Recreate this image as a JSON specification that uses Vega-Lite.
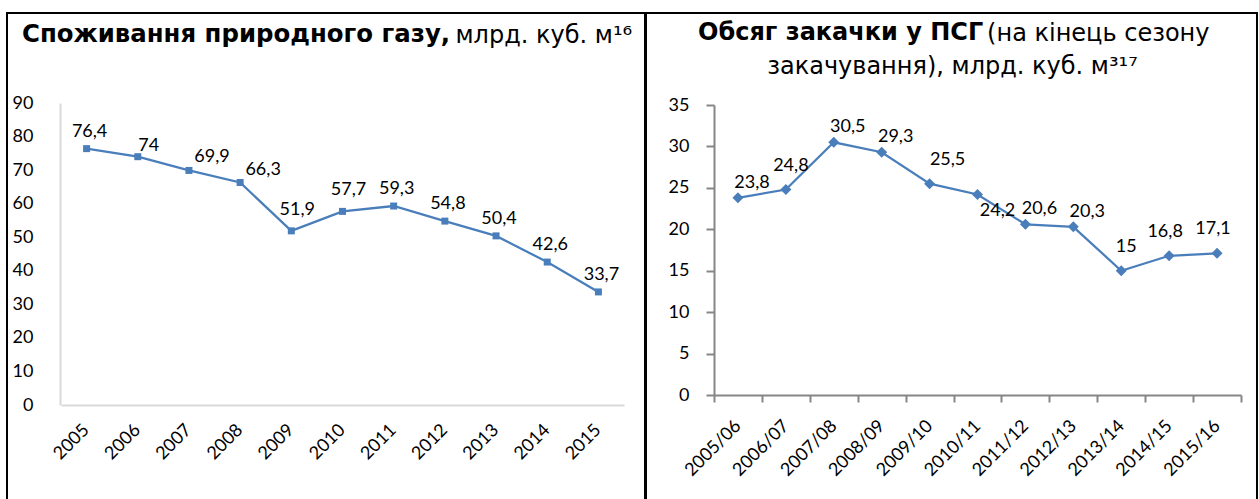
{
  "$schema": "https://vega.github.io/schema/vega-lite/v6.json",
  "padding": {"left": 6, "top": 12, "right": 0, "bottom": 0},
  "spacing": -9,
  "background": "#ffffff",
  "config": {
    "locale": {"number": {"decimal": ",", "thousands": " ", "grouping": [3], "currency": ["", ""]}},
    "view": {"stroke": "#000000", "strokeWidth": 2},
    "font": "Lato",
    "axis": {"grid": false, "labelFont": "Lato", "labelFontSize": 18, "labelColor": "#000000", "titleFont": "DejaVu Sans", "titleFontSize": 24, "titleFontWeight": "normal", "titleColor": "#000000"},
    "text": {"font": "Lato", "fontSize": 18, "color": "#000000"},
    "title": {"font": "DejaVu Sans", "fontSize": 24, "color": "#000000", "frame": "group", "align": "left"}
  },
  "datasets": {
    "gas": [
      {"year": "2005", "value": 76.4},
      {"year": "2006", "value": 74},
      {"year": "2007", "value": 69.9},
      {"year": "2008", "value": 66.3},
      {"year": "2009", "value": 51.9},
      {"year": "2010", "value": 57.7},
      {"year": "2011", "value": 59.3},
      {"year": "2012", "value": 54.8},
      {"year": "2013", "value": 50.4},
      {"year": "2014", "value": 42.6},
      {"year": "2015", "value": 33.7}
    ],
    "storage": [
      {"season": "2005/06", "value": 23.8},
      {"season": "2006/07", "value": 24.8},
      {"season": "2007/08", "value": 30.5},
      {"season": "2008/09", "value": 29.3},
      {"season": "2009/10", "value": 25.5},
      {"season": "2010/11", "value": 24.2},
      {"season": "2011/12", "value": 20.6},
      {"season": "2012/13", "value": 20.3},
      {"season": "2013/14", "value": 15},
      {"season": "2014/15", "value": 16.8},
      {"season": "2015/16", "value": 17.1}
    ]
  },
  "hconcat": [
    {
      "width": 638,
      "height": 488,
      "data": {"name": "gas"},
      "title": {"text": "Споживання природного газу,", "anchor": "start", "dx": 15, "offset": -34, "fontWeight": "bold", "fontSize": 24.4},
      "encoding": {
        "x": {
          "field": "year", "type": "ordinal", "sort": null,
          "scale": {"type": "band", "range": [54, 617], "paddingInner": 0, "paddingOuter": 0},
          "axis": {"title": null, "domainColor": "#d9d9d9", "domainWidth": 2, "ticks": false, "labelAngle": -45, "labelAlign": "right", "labelBaseline": "middle", "labelPadding": 22, "offset": -96}
        },
        "y": {
          "field": "value", "type": "quantitative",
          "scale": {"domain": [0, 90], "range": [392, 90], "nice": false},
          "axis": {"title": "млрд. куб. м¹⁶", "titleAngle": 0, "titleAlign": "left", "titleBaseline": "alphabetic", "titleX": 395, "titleY": 29, "domainColor": "#d9d9d9", "domainWidth": 2, "ticks": false, "values": [0, 10, 20, 30, 40, 50, 60, 70, 80, 90], "labelPadding": 27, "offset": -53}
        }
      },
      "layer": [
        {"mark": {"type": "line", "color": "#4a7ebb", "strokeWidth": 2.25}},
        {"mark": {"type": "point", "shape": "square", "filled": true, "size": 49, "color": "#4a7ebb", "opacity": 1}},
        {
          "transform": [{"filter": {"field": "year", "oneOf": ["2006"]}}],
          "mark": {"type": "text", "dx": 11, "dy": -11, "align": "center", "baseline": "middle"},
          "encoding": {"text": {"field": "value", "type": "quantitative", "format": ".1~f"}}
        },
        {
          "transform": [{"filter": {"field": "year", "oneOf": ["2007", "2008"]}}],
          "mark": {"type": "text", "dx": 23, "dy": -13, "align": "center", "baseline": "middle"},
          "encoding": {"text": {"field": "value", "type": "quantitative", "format": ".1~f"}}
        },
        {
          "transform": [{"filter": {"field": "year", "oneOf": ["2009", "2010"]}}],
          "mark": {"type": "text", "dx": 6, "dy": -21, "align": "center", "baseline": "middle"},
          "encoding": {"text": {"field": "value", "type": "quantitative", "format": ".1~f"}}
        },
        {
          "transform": [{"filter": {"field": "year", "oneOf": ["2005", "2011", "2012", "2013", "2014", "2015"]}}],
          "mark": {"type": "text", "dx": 3, "dy": -17, "align": "center", "baseline": "middle"},
          "encoding": {"text": {"field": "value", "type": "quantitative", "format": ".1~f"}}
        }
      ]
    },
    {
      "width": 611,
      "height": 488,
      "data": {"name": "storage"},
      "title": {"text": "Обсяг закачки у ПСГ", "anchor": "start", "dx": 52, "offset": -32, "fontWeight": "bold"},
      "encoding": {
        "x": {
          "field": "season", "type": "ordinal", "sort": null,
          "scale": {"type": "band", "range": [68, 595], "paddingInner": 0, "paddingOuter": 0},
          "axis": {"title": "(на кінець сезону", "titleAngle": 0, "titleAlign": "right", "titleBaseline": "alphabetic", "titleX": 563, "titleY": -355, "domainColor": "#868686", "domainWidth": 2, "ticks": true, "tickBand": "extent", "tickColor": "#868686", "tickWidth": 2, "tickSize": 7, "labelAngle": -45, "labelAlign": "right", "labelBaseline": "middle", "labelPadding": 21, "offset": -106}
        },
        "y": {
          "field": "value", "type": "quantitative",
          "scale": {"domain": [0, 35], "range": [382, 92], "nice": false},
          "axis": {"title": "закачування), млрд. куб. м³¹⁷", "titleAngle": 0, "titleAlign": "center", "titleBaseline": "alphabetic", "titleX": 238, "titleY": 60, "domainColor": "#868686", "domainWidth": 2, "ticks": true, "tickColor": "#868686", "tickWidth": 2, "tickSize": 8, "values": [0, 5, 10, 15, 20, 25, 30, 35], "labelPadding": 17, "offset": -68}
        }
      },
      "layer": [
        {"mark": {"type": "line", "color": "#4a7ebb", "strokeWidth": 2.25}},
        {"mark": {"type": "point", "shape": "diamond", "filled": true, "size": 121, "color": "#4a7ebb", "opacity": 1}},
        {
          "transform": [{"filter": {"field": "season", "oneOf": ["2005/06", "2007/08", "2008/09", "2011/12", "2012/13"]}}],
          "mark": {"type": "text", "dx": 14, "dy": -15, "align": "center", "baseline": "middle"},
          "encoding": {"text": {"field": "value", "type": "quantitative", "format": ".1~f"}}
        },
        {
          "transform": [{"filter": {"field": "season", "oneOf": ["2006/07", "2013/14"]}}],
          "mark": {"type": "text", "dx": 5, "dy": -24, "align": "center", "baseline": "middle"},
          "encoding": {"text": {"field": "value", "type": "quantitative", "format": ".1~f"}}
        },
        {
          "transform": [{"filter": {"field": "season", "oneOf": ["2009/10"]}}],
          "mark": {"type": "text", "dx": 18, "dy": -24, "align": "center", "baseline": "middle"},
          "encoding": {"text": {"field": "value", "type": "quantitative", "format": ".1~f"}}
        },
        {
          "transform": [{"filter": {"field": "season", "oneOf": ["2010/11"]}}],
          "mark": {"type": "text", "dx": 20, "dy": 17, "align": "center", "baseline": "middle"},
          "encoding": {"text": {"field": "value", "type": "quantitative", "format": ".1~f"}}
        },
        {
          "transform": [{"filter": {"field": "season", "oneOf": ["2014/15", "2015/16"]}}],
          "mark": {"type": "text", "dx": -4, "dy": -24, "align": "center", "baseline": "middle"},
          "encoding": {"text": {"field": "value", "type": "quantitative", "format": ".1~f"}}
        }
      ]
    }
  ]
}
